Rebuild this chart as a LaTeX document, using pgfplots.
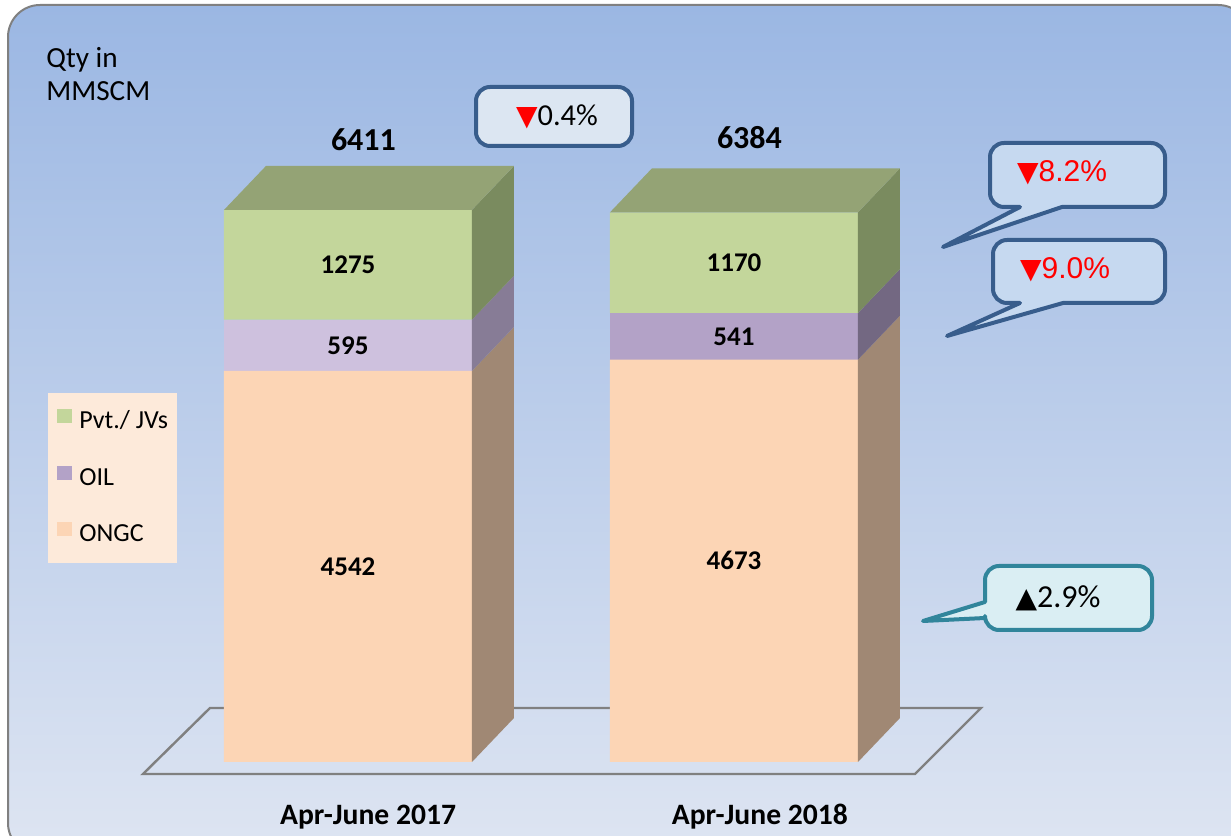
\documentclass[border=0pt]{standalone}
\usepackage{pgfplots}
\pgfplotsset{compat=1.18}
\usepackage{fontspec}
\setmainfont{Carlito}
\newfontfamily\arialf{Liberation Sans}
\newfontfamily\dejavu{DejaVu Sans}
\definecolor{bgtop}{RGB}{155,183,227}
\definecolor{bgbot}{RGB}{222,229,242}
\definecolor{ongc}{RGB}{252,213,181}
\definecolor{ongcside}{RGB}{160,136,116}
\definecolor{oilA}{RGB}{206,193,222}
\definecolor{oilB}{RGB}{179,162,199}
\definecolor{oilsideA}{RGB}{135,124,150}
\definecolor{oilsideB}{RGB}{115,104,130}
\definecolor{pvt}{RGB}{195,214,155}
\definecolor{pvtside}{RGB}{122,139,95}
\definecolor{pvttop}{RGB}{148,163,117}
\definecolor{legbg}{RGB}{253,234,218}
\definecolor{cbblue}{RGB}{56,93,140}
\definecolor{cfa}{RGB}{220,230,242}
\definecolor{cfb}{RGB}{198,217,240}
\definecolor{cbteal}{RGB}{49,133,155}
\definecolor{cfteal}{RGB}{218,238,243}
\pgfplotsset{base/.style={scale only axis, width=615.5pt, height=381pt,
  xmin=-0.90155, xmax=2.2876, ymin=0, ymax=8850,
  at={(0pt,36.5pt)}, anchor=south west, clip=false}}
\begin{document}
\begin{tikzpicture}[x=0.5pt,y=0.5pt]
\useasboundingbox (0,0) rectangle (1231,835);
\clip (0,0) rectangle (1231,835);
% background panel
\shadedraw[top color=bgtop, bottom color=bgbot, draw=gray, line width=1pt, rounded corners=16pt] (8,-20) rectangle (1250,830);
% floor
\draw[gray, line width=1.2pt] (143,61) -- (915,61) -- (981,127) -- (210,127) -- cycle;
% unit text
\node[anchor=base west, inner sep=0pt, font=\fontsize{14.6}{16}\selectfont] at (46,767) {Qty in};
\node[anchor=base west, inner sep=0pt, font=\fontsize{14.6}{16}\selectfont] at (46,734) {MMSCM};
% bars
\begin{axis}[base, ybar stacked, bar width=124pt,
  axis line style={draw=none}, ymajorticks=false, major tick length=0pt,
  xtick={0.052,1.067}, xticklabels={Apr-June 2017, Apr-June 2018},
  xticklabel style={font=\bfseries\fontsize{14.8}{16}\selectfont, anchor=base, yshift=-31pt},
  reverse legend, legend cell align=left,
  legend image code/.code={\fill[#1] (0pt,-0.5pt) rectangle (7.5pt,6.5pt);},
  legend style={at={(0.039,0.4843)}, anchor=north west, fill=legbg, draw=none,
    font=\fontsize{13}{15}\selectfont, row sep=16pt, inner xsep=4.5pt, inner ysep=8pt,
    nodes={inner sep=0pt, text height=9pt, text depth=2.5pt},
    /tikz/every odd column/.append style={column sep=3.5pt}}]
\addplot[fill=ongc, draw=none] coordinates {(0,4542) (1,4673)};
\addlegendentry{ONGC}
\addplot[fill=oilA, draw=none, forget plot] coordinates {(0,595) (1,0)};
\addplot[fill=oilB, draw=none] coordinates {(0,0) (1,541)};
\addlegendentry{OIL}
\addplot[fill=pvt, draw=none] coordinates {(0,1275) (1,1170)};
\addlegendentry{Pvt./ JVs}
\end{axis}
% 3-D faces and value labels
\begin{axis}[base, hide axis]
\addplot[fill=ongcside, draw=none] coordinates {(0.3212,0) (0.43,511) (0.43,5053) (0.3212,4542)} -- cycle;
\addplot[fill=oilsideA, draw=none] coordinates {(0.3212,4542) (0.43,5053) (0.43,5648) (0.3212,5137)} -- cycle;
\addplot[fill=pvtside, draw=none] coordinates {(0.3212,5137) (0.43,5648) (0.43,6923) (0.3212,6412)} -- cycle;
\addplot[fill=pvttop, draw=none] coordinates {(-0.3212,6412) (-0.2124,6923) (0.43,6923) (0.3212,6412)} -- cycle;
\addplot[fill=ongcside, draw=none] coordinates {(1.3212,0) (1.43,511) (1.43,5184) (1.3212,4673)} -- cycle;
\addplot[fill=oilsideB, draw=none] coordinates {(1.3212,4673) (1.43,5184) (1.43,5725) (1.3212,5214)} -- cycle;
\addplot[fill=pvtside, draw=none] coordinates {(1.3212,5214) (1.43,5725) (1.43,6895) (1.3212,6384)} -- cycle;
\addplot[fill=pvttop, draw=none] coordinates {(0.6788,6384) (0.7876,6895) (1.43,6895) (1.3212,6384)} -- cycle;
\addplot[draw=none, no markers, nodes near coords, point meta=explicit symbolic,
  nodes near coords style={anchor=center, font=\bfseries\fontsize{13.5}{15}\selectfont}]
  coordinates {(0,2271)[4542] (0,4839.5)[595] (0,5774.5)[1275] (1,2336.5)[4673] (1,4943.5)[541] (1,5799)[1170]};
\addplot[draw=none, no markers, nodes near coords, point meta=explicit symbolic,
  nodes near coords style={anchor=center, font=\bfseries\fontsize{16}{18}\selectfont}]
  coordinates {(0.04,7224)[6411] (1.04,7250)[6384]};
\end{axis}
% callouts
\draw[line width=2pt, draw=cbblue, fill=cfa, rounded corners=7pt] (476,689) rectangle (632,748);
\node[font=\fontsize{15.2}{17}\selectfont] at (557,718) {\textcolor{red}{\dejavu\fontsize{14}{15}\selectfont ▼}0.4\%};
\draw[line width=2pt, draw=cbblue, fill=cfb, line join=round] (1020,628) [rounded corners=7pt] -- (990,628) -- (990,692) -- (1165,692) -- (1165,628) [sharp corners] -- (1062,628) -- (943,588) -- cycle;
\node[font=\arialf\fontsize{15}{17}\selectfont, text=red] at (1062,662) {{\dejavu\fontsize{14}{15}\selectfont ▼}8.2\%};
\draw[line width=2pt, draw=cbblue, fill=cfb, line join=round] (1020,532) [rounded corners=7pt] -- (993,532) -- (993,595) -- (1165,595) -- (1165,532) [sharp corners] -- (1063,532) -- (947,499) -- cycle;
\node[font=\arialf\fontsize{15}{17}\selectfont, text=red] at (1065,565) {{\dejavu\fontsize{14}{15}\selectfont ▼}9.0\%};
\draw[line width=2pt, draw=cbteal, fill=cfteal, line join=round] (985,233) [rounded corners=7pt] -- (985,269) -- (1152,269) -- (1152,205) -- (985,205) [sharp corners] -- (985,217) -- (923,214) -- cycle;
\node[font=\fontsize{16}{18}\selectfont] at (1058,237) {{\dejavu\fontsize{14}{15}\selectfont ▲}2.9\%};
\end{tikzpicture}
\end{document}
